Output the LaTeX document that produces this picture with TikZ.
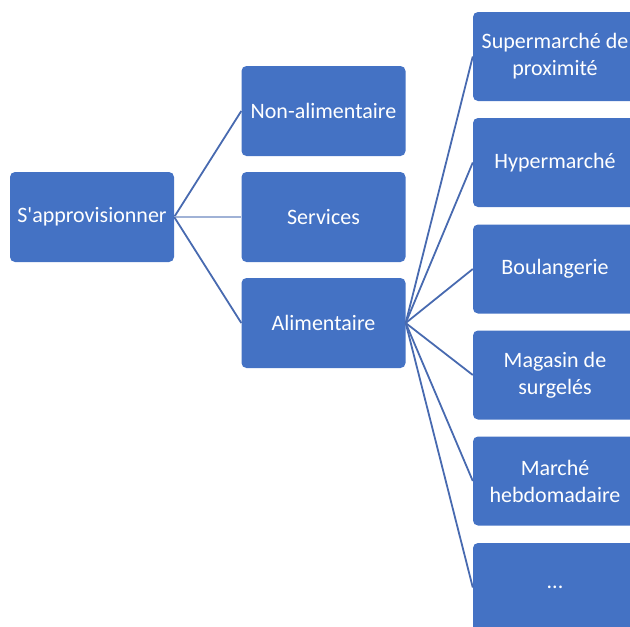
\documentclass[tikz,border=0pt]{standalone}
\usepackage{fontspec}
\setmainfont{Carlito}
\usepackage{tikz}
\usetikzlibrary{calc}
\definecolor{box_blue}{RGB}{68, 114, 196}
\definecolor{edge_blue}{RGB}{72, 106, 176}
\definecolor{edge_light}{RGB}{160, 178, 214}
\tikzstyle{bx}=[rectangle,rounded corners=5pt,fill=box_blue,draw=none,
  text=white,align=center,inner sep=0pt,minimum width=164pt,minimum height=90pt,
  font=\fontsize{22}{27}\selectfont]
\tikzstyle{sbx}=[bx,minimum height=89pt]
\tikzstyle{ln}=[draw=edge_blue,line width=1.8pt]
\tikzstyle{lnl}=[draw=edge_light,line width=2.6pt]
\tikzstyle{none}=[]

\begin{document}
\begin{tikzpicture}[x=1pt,y=-1pt]
        \useasboundingbox (0, 0) rectangle (630, 627);
        \node [style=bx] (0) at (92, 217) {S\textquotesingle approvisionner};
        \node [style=bx] (1) at (323.5, 111) {Non-alimentaire};
        \node [style=bx] (2) at (323.5, 217) {Services};
        \node [style=bx] (3) at (323.5, 323) {Alimentaire};
        \node [style=sbx] (4) at (555, 56.5) {Supermarché de\\proximité};
        \node [style=sbx] (5) at (555, 162.5) {Hypermarché};
        \node [style=sbx] (6) at (555, 269) {Boulangerie};
        \node [style=sbx] (7) at (555, 375) {Magasin de\\surgelés};
        \node [style=sbx] (8) at (555, 481) {Marché\\hebdomadaire};
        \node [style=sbx] (9) at (555, 587.5) {...};
        \draw [style=ln] (0.east) to (1.west);
        \draw [style=lnl] (0.east) to (2.west);
        \draw [style=ln] (0.east) to (3.west);
        \draw [style=ln] (3.east) to (4.west);
        \draw [style=ln] (3.east) to (5.west);
        \draw [style=ln] (3.east) to (6.west);
        \draw [style=ln] (3.east) to (7.west);
        \draw [style=ln] (3.east) to (8.west);
        \draw [style=ln] (3.east) to (9.west);
    \end{tikzpicture}
\end{document}
